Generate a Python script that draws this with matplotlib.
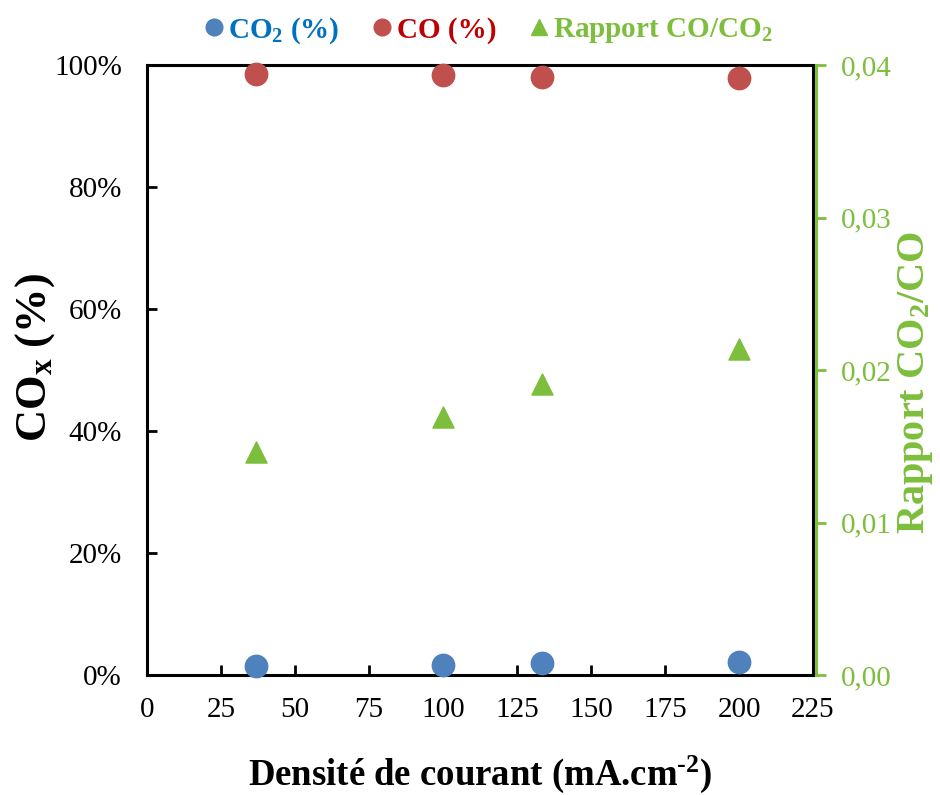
import matplotlib
matplotlib.use("Agg")
import matplotlib.pyplot as plt
from matplotlib.ticker import FuncFormatter, MultipleLocator
from matplotlib.lines import Line2D

plt.rcParams['font.family'] = ['Liberation Serif', 'DejaVu Serif']
plt.rcParams['mathtext.fontset'] = 'custom'
plt.rcParams['mathtext.rm'] = 'Liberation Serif'
plt.rcParams['mathtext.it'] = 'Liberation Serif:italic'
plt.rcParams['mathtext.bf'] = 'Liberation Serif:bold'

# Data
current_density = [36.7, 100, 133.3, 200]
co2_pct = [1.4, 1.6, 1.9, 2.1]
co_pct = [98.6, 98.4, 98.1, 97.9]
ratio = [0.0146, 0.0169, 0.0191, 0.0214]

BLUE_M = '#4F81BD'
RED_M = '#C0504D'
GREEN_M = '#7DBE3C'
BLUE_T = '#0070C0'
RED_T = '#C00000'
GREEN_T = '#7DBE3C'

fig = plt.figure(figsize=(9.4, 7.95), dpi=100)
ax = fig.add_axes([0.1564, 0.151, 0.7085, 0.767])
ax2 = ax.twinx()

ax.scatter(current_density, co2_pct, s=260, color=BLUE_M, zorder=3, clip_on=False)
ax.scatter(current_density, co_pct, s=260, color=RED_M, zorder=3, clip_on=False)
ax2.scatter(current_density, ratio, s=230, marker='^', color=GREEN_M, zorder=3)

ax.set_xlim(0, 225)
ax.set_ylim(0, 100)
ax2.set_ylim(0, 0.04)
ax.xaxis.set_major_locator(MultipleLocator(25))
ax.yaxis.set_major_locator(MultipleLocator(20))
ax2.yaxis.set_major_locator(MultipleLocator(0.01))
ax.yaxis.set_major_formatter(FuncFormatter(lambda v, p: f"{v:.0f}%"))
ax2.yaxis.set_major_formatter(FuncFormatter(lambda v, p: f"{v:.2f}".replace('.', ',')))

ax.tick_params(axis='x', direction='in', length=7, width=2, labelsize=21, pad=16, colors='black')
ax.tick_params(axis='y', direction='in', length=7, width=2, labelsize=21, pad=18)
ax2.tick_params(axis='y', direction='out', length=7, width=2, labelsize=21, pad=11,
                colors=GREEN_T)

for s in ['left', 'bottom', 'top', 'right']:
    ax.spines[s].set_linewidth(2.2)
    ax.spines[s].set_color('black')
for s in ['left', 'bottom', 'top']:
    ax2.spines[s].set_visible(False)
ax2.spines['right'].set_linewidth(2.2)
ax2.spines['right'].set_color(GREEN_M)
ax2.spines['right'].set_position(('outward', 2))

ax.set_xlabel('Densité de courant (mA.cm$^{\\mathbf{‐2}}$)', fontsize=26.5,
              fontweight='bold', labelpad=22)
ax.set_ylabel('CO$_{\\mathbf{x}}$ (%)', fontsize=32, fontweight='bold')
ax.yaxis.set_label_coords(-0.135, 0.52)
ax2.set_ylabel('Rapport CO$_{\\mathbf{2}}$/CO', fontsize=29, fontweight='bold',
               color=GREEN_T)
ax2.yaxis.set_label_coords(1.125, 0.48)

handles = [
    Line2D([], [], marker='o', linestyle='none', color=BLUE_M, markersize=12),
    Line2D([], [], marker='o', linestyle='none', color=RED_M, markersize=12),
    Line2D([], [], marker='^', linestyle='none', color=GREEN_M, markersize=12),
]
labels = ['CO$_{\\mathbf{2}}$ (%)', 'CO (%)', 'Rapport CO/CO$_{\\mathbf{2}}$']
leg = fig.legend(handles, labels, loc='center', bbox_to_anchor=(0.517, 0.962), ncol=3,
                 frameon=False, handlelength=1.0, handletextpad=0.0, columnspacing=0.95,
                 prop={'size': 21, 'weight': 'bold'})
for t, c in zip(leg.get_texts(), [BLUE_T, RED_T, GREEN_T]):
    t.set_color(c)

fig.savefig('out.png', dpi=100)
